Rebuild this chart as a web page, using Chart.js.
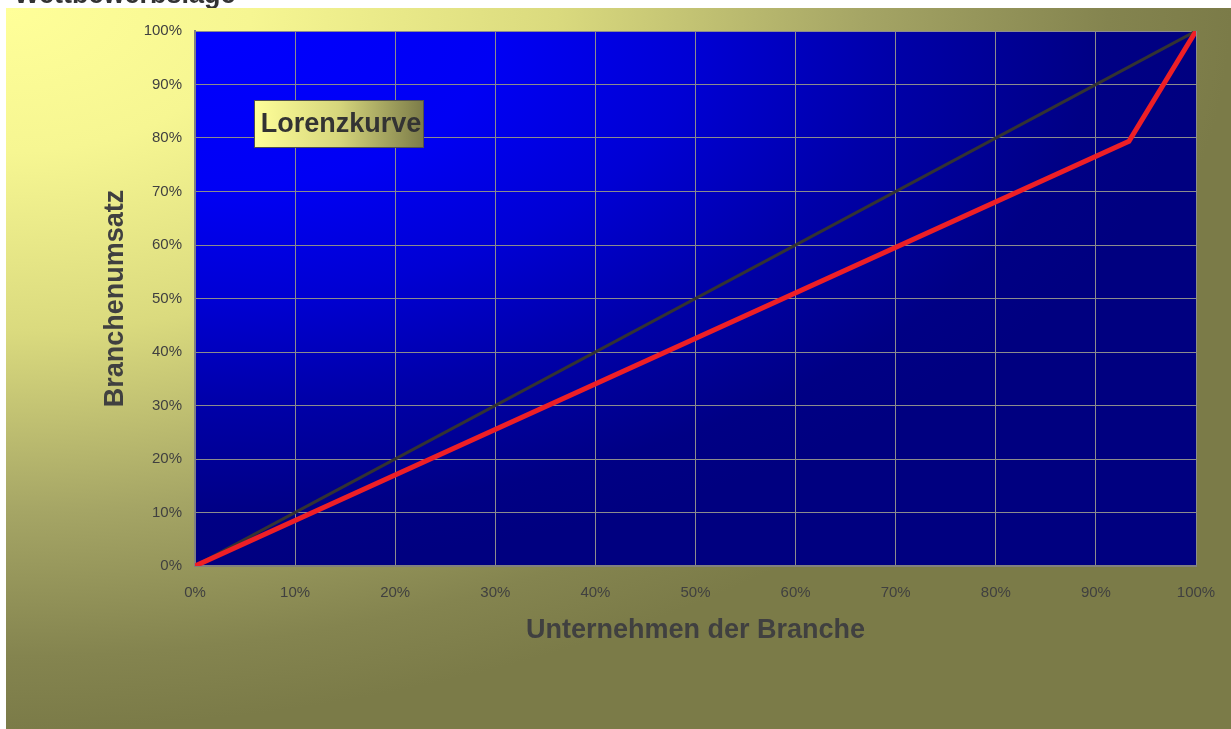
<!DOCTYPE html>
<html>
<head>
<meta charset="utf-8">
<script src="https://cdn.jsdelivr.net/npm/chart.js@4"></script>
<style>
  body { margin: 0; background: #fff; }
  #lorenz { display: block; }
</style>
</head>
<body>
<canvas id="lorenz" width="1231" height="729"></canvas>
<script>
// share of companies (x) and share of sales (y)
const companyShare = [0, 0.933, 1];
const salesShare = [0, 0.794, 1];
const equalX = [0, 1];
const equalY = [0, 1];
const tickValues = [0, 0.1, 0.2, 0.3, 0.4, 0.5, 0.6, 0.7, 0.8, 0.9, 1];

const pageTitle = 'Wettbewerbslage';
const boxLabel = 'Lorenzkurve';
const xTitle = 'Unternehmen der Branche';
const yTitle = 'Branchenumsatz';

const textColor = '#404040';
const fontName = '"Liberation Sans", Arial, sans-serif';

// corner gradient (elliptic, from top-left)
function cornerFill(ctx, x, y, w, h, stops) {
    ctx.save();
    ctx.translate(x, y);
    ctx.scale(w, h);
    let g = ctx.createRadialGradient(0, 0, 0, 0, 0, 1);
    stops.forEach(s => g.addColorStop(s[0], s[1]));
    ctx.fillStyle = g;
    ctx.fillRect(0, 0, 1, 1);
    ctx.restore();
}

const backgroundPlugin = {
    id: 'bgPlugin',
    beforeDraw(chart) {
        const ctx = chart.ctx;
        ctx.save();
        ctx.fillStyle = '#ffffff';
        ctx.fillRect(0, 0, chart.width, chart.height);
        // page title, mostly cut at the top
        ctx.fillStyle = '#333333';
        ctx.font = 'bold 27px ' + fontName;
        ctx.textBaseline = 'alphabetic';
        ctx.fillText(pageTitle, 14, 3);
        cornerFill(ctx, 6, 8, chart.width - 6, chart.height - 8, [
            [0, '#ffff99'], [0.2, '#f6f692'], [0.45, '#dada7e'],
            [0.7, '#a5a565'], [0.9, '#84844f'], [1, '#7b7b48']
        ]);
        const a = chart.chartArea;
        cornerFill(ctx, a.left, a.top, a.right - a.left, a.bottom - a.top, [
            [0, '#0000ff'], [0.3, '#0000f4'], [0.5, '#0000d4'],
            [0.7, '#0000a8'], [0.9, '#000085'], [1, '#000080']
        ]);
        ctx.restore();
    },
    afterDraw(chart) {
        const ctx = chart.ctx;
        const bx = 254, by = 100, bw = 170, bh = 48;
        ctx.save();
        let g = ctx.createLinearGradient(bx, 0, bx + bw, 0);
        g.addColorStop(0, '#ffff99');
        g.addColorStop(0.5, '#d6d67c');
        g.addColorStop(1, '#7b7b48');
        ctx.fillStyle = g;
        ctx.fillRect(bx, by, bw, bh);
        ctx.strokeStyle = '#505050';
        ctx.lineWidth = 1;
        ctx.strokeRect(bx + 0.5, by + 0.5, bw - 1, bh - 1);
        ctx.fillStyle = '#333333';
        ctx.font = 'bold 27px ' + fontName;
        ctx.textAlign = 'center';
        ctx.textBaseline = 'middle';
        ctx.fillText(boxLabel, bx + bw / 2 + 2, by + bh / 2 + 1);
        ctx.restore();
    }
};

const pct = v => Math.round(v * 100) + '%';

new Chart(document.getElementById('lorenz'), {
    type: 'scatter',
    data: {
        datasets: [
            {
                label: 'Lorenzkurve',
                data: companyShare.map((x, i) => ({ x: x, y: salesShare[i] })),
                showLine: true,
                borderColor: '#ee1f26',
                borderWidth: 5,
                pointRadius: 0,
                tension: 0
            },
            {
                label: 'Gleichverteilung',
                data: equalX.map((x, i) => ({ x: x, y: equalY[i] })),
                showLine: true,
                borderColor: '#333333',
                borderWidth: 3,
                pointRadius: 0,
                tension: 0
            }
        ]
    },
    options: {
        responsive: false,
        animation: false,
        layout: {
            padding: { left: 99, right: 35, top: 31, bottom: 82 }
        },
        plugins: {
            legend: { display: false },
            tooltip: { enabled: false }
        },
        scales: {
            x: {
                type: 'linear',
                min: 0,
                max: 1,
                afterBuildTicks: s => { s.ticks = tickValues.map(v => ({ value: v })); },
                afterFit: s => { s.height = 81; s.paddingLeft = 0; s.paddingRight = 0; },
                grid: { color: '#8c8c8c', drawTicks: false },
                border: { color: '#808080', width: 2 },
                ticks: {
                    color: textColor,
                    padding: 18,
                    font: { family: fontName, size: 15 },
                    callback: pct
                },
                title: {
                    display: true,
                    text: xTitle,
                    color: textColor,
                    padding: 0,
                    font: { family: fontName, size: 27, weight: 'bold' }
                }
            },
            y: {
                type: 'linear',
                min: 0,
                max: 1,
                afterBuildTicks: s => { s.ticks = tickValues.map(v => ({ value: v })); },
                afterFit: s => { s.width = 96; s.paddingTop = 0; s.paddingBottom = 0; },
                grid: { color: '#8c8c8c', drawTicks: false },
                border: { color: '#808080', width: 2 },
                ticks: {
                    color: textColor,
                    padding: 13,
                    font: { family: fontName, size: 15 },
                    callback: pct
                },
                title: {
                    display: true,
                    text: yTitle,
                    color: textColor,
                    padding: 0,
                    font: { family: fontName, size: 27, weight: 'bold' }
                }
            }
        }
    },
    plugins: [backgroundPlugin]
});
</script>
</body>
</html>
